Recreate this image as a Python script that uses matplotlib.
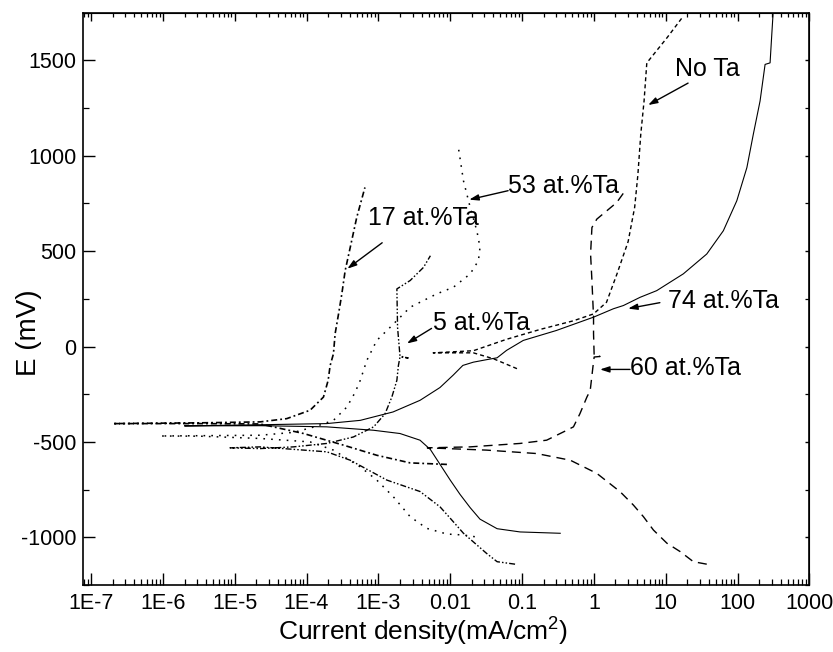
import matplotlib
matplotlib.use("Agg")
import matplotlib.pyplot as plt
from matplotlib.ticker import LogLocator, MultipleLocator, NullFormatter

plt.rcParams['font.family'] = ['Liberation Sans', 'DejaVu Sans']
plt.rcParams['mathtext.fontset'] = 'custom'
plt.rcParams['mathtext.rm'] = 'Liberation Sans'
plt.rcParams['mathtext.default'] = 'regular'
plt.rcParams['axes.unicode_minus'] = False

# Polarization curves: current density (mA/cm2) and potential E (mV),
# each list runs from the cathodic end, through Ecorr, to the anodic end
no_ta_i = [0.085, 0.040, 0.021, 5.8e-3, 0.021, 0.061, 0.18, 0.52, 0.99, 1.5,
           2.1, 3.0, 3.7, 4.1, 4.5, 5.0, 5.46, 10.4, 17.6]
no_ta_e = [-116, -64, -33, -33, -22, 38, 90, 135, 171, 232,
           381, 550, 730, 900, 1113, 1287, 1487, 1618, 1732]

ta5_i = [0.080, 0.045, 0.032, 0.0153, 0.010, 7.2e-3, 3.8e-3, 1.31e-3, 4.06e-4, 1.92e-4, 2.26e-5, 8.6e-6,
         2.26e-5, 6.6e-5, 1.92e-4, 4.5e-4, 8.6e-4, 1.24e-3, 1.54e-3, 1.81e-3, 1.9e-3, 2.0e-3, 2.6e-3,
         2.0e-3, 1.85e-3, 1.81e-3, 2.77e-3, 4.25e-3, 5.3e-3]
ta5_e = [-1141, -1128, -1084, -979, -900, -840, -760, -700, -596, -552, -526, -531,
         -535, -526, -508, -474, -421, -352, -265, -177, -100, -55, -60,
         -50, 100, 302, 346, 415, 476]

ta17_i = [9.0e-3, 2.77e-3, 9.5e-4, 3.27e-4, 9.1e-5, 2.26e-5, 3.3e-6, 2.0e-7,
          3.3e-6, 2.26e-5, 5.3e-5, 1.12e-4, 1.72e-4, 2.0e-4, 2.13e-4, 2.37e-4, 2.5e-4, 2.79e-4,
          3.1e-4, 3.45e-4, 4.06e-4, 5.0e-4, 6.5e-4]
ta17_e = [-618, -610, -570, -517, -456, -406, -404, -404,
          -400, -395, -378, -334, -265, -177, -100, -38, 67, 171,
          276, 398, 520, 677, 834]

ta53_i = [0.022, 0.0153, 9.0e-3, 4.7e-3, 2.77e-3, 1.62e-3, 9.5e-4, 5.6e-4, 2.37e-4, 1.12e-4, 2.26e-5, 3.3e-6, 9.2e-7,
          2.26e-5, 6.6e-5, 1.32e-4, 2.37e-4, 3.65e-4, 4.75e-4, 5.6e-4, 6.9e-4, 9.5e-4, 1.46e-3,
          2.77e-3, 6.5e-3, 0.0111, 0.019, 0.0247, 0.026, 0.0235, 0.019, 0.0153, 0.013]
ta53_e = [-997, -988, -983, -953, -892, -788, -700, -631, -543, -500, -482, -470, -469,
          -465, -450, -420, -387, -317, -240, -177, -73, 32, 101,
          206, 276, 311, 381, 450, 520, 607, 729, 869, 1043]

ta60_i = [37.3, 24.3, 15.9, 10.4, 6.75, 4.9, 3.55, 2.32, 1.10, 0.47, 0.16, 0.032, 4.8e-3,
          0.019, 0.094, 0.22, 0.42, 0.52, 0.64, 0.80, 0.89, 0.97, 1.01,
          1.22, 1.01, 0.99, 0.99, 0.94, 0.90, 0.94, 1.10, 2.08, 2.72]
ta60_e = [-1141, -1128, -1075, -1031, -962, -892, -831, -761, -665, -596, -561, -543, -531,
          -526, -508, -491, -439, -421, -352, -265, -230, -108, -55,
          -52, -48, 67, 154, 346, 485, 624, 668, 755, 816]

ta74_i = [0.34, 0.094, 0.045, 0.026, 0.019, 0.0137, 0.010, 7.0e-3, 5.3e-3, 3.8e-3, 2.0e-3, 8.6e-4, 1.9e-4, 2.3e-5, 2.0e-6,
          2.3e-5, 1.9e-4, 5.6e-4, 1.6e-3, 3.8e-3, 7.2e-3, 0.011, 0.015, 0.021, 0.032, 0.045, 0.061, 0.104, 0.30, 0.99,
          1.87, 2.58, 4.4, 7.5, 17.6, 37.3, 63.5, 97.7, 135, 166, 206, 242, 284, 300, 312]
ta74_e = [-979, -972, -955, -905, -845, -775, -700, -610, -540, -491, -456, -439, -421, -415, -416,
          -410, -404, -387, -343, -282, -215, -150, -99, -82, -69, -59, -20, 32, 84, 154,
          198, 215, 258, 293, 381, 485, 607, 764, 938, 1113, 1287, 1479, 1487, 1636, 1740]

xtick_vals = [1e-7, 1e-6, 1e-5, 1e-4, 1e-3, 1e-2, 1e-1, 1, 10, 100, 1000]
xtick_labels = ['1E-7', '1E-6', '1E-5', '1E-4', '1E-3', '0.01', '0.1', '1', '10', '100', '1000']

fig = plt.figure(figsize=(8.33, 6.52), dpi=100)
ax = fig.add_axes([0.100, 0.1028, 0.8716, 0.8777])

lw = 1.0
ax.plot(no_ta_i, no_ta_e, color='k', lw=lw, linestyle=(0, (2.9, 2.2)))
ax.plot(ta5_i, ta5_e, color='k', lw=lw, linestyle=(0, (4.3, 1.5, 1.1, 1.5, 1.1, 1.5)))
ax.plot(ta17_i, ta17_e, color='k', lw=1.2, linestyle=(0, (3.6, 1.8, 1.1, 1.8)))
ax.plot(ta53_i, ta53_e, color='k', lw=1.1, linestyle=(0, (1.1, 4.0)))
ax.plot(ta60_i, ta60_e, color='k', lw=lw, linestyle=(0, (6.5, 4.3)))
ax.plot(ta74_i, ta74_e, color='k', lw=0.8, linestyle='-')

ax.set_xscale('log')
ax.set_xlim(7.8e-8, 1000)
ax.set_ylim(-1250, 1750)

ax.set_xticks(xtick_vals)
ax.set_xticklabels(xtick_labels)
ax.xaxis.set_minor_locator(LogLocator(base=10, subs=range(2, 10), numticks=100))
ax.xaxis.set_minor_formatter(NullFormatter())
ax.yaxis.set_major_locator(MultipleLocator(500))
ax.yaxis.set_minor_locator(MultipleLocator(250))

ax.tick_params(which='major', direction='in', length=8.4, width=1.0, labelsize=15.5)
ax.tick_params(which='minor', direction='in', length=4.5, width=0.9)
ax.tick_params(axis='x', pad=6)
ax.tick_params(axis='y', pad=5)
for sp in ax.spines.values():
    sp.set_linewidth(1.2)

# ticks on top and right are shorter and have no labels
top = ax.secondary_xaxis('top')
top.set_xticks(xtick_vals)
top.xaxis.set_minor_locator(LogLocator(base=10, subs=range(2, 10), numticks=100))
top.xaxis.set_minor_formatter(NullFormatter())
top.tick_params(which='major', direction='in', length=5.5, width=1.0, labeltop=False)
top.tick_params(which='minor', direction='in', length=3, width=0.9)

right = ax.secondary_yaxis('right')
right.yaxis.set_major_locator(MultipleLocator(500))
right.yaxis.set_minor_locator(MultipleLocator(250))
right.tick_params(which='major', direction='in', length=3, width=1.0, labelright=False)
right.tick_params(which='minor', direction='in', length=3, width=0.9)

ax.set_xlabel('Current density(mA/cm$^2$)', fontsize=19)
ax.set_ylabel('E (mV)', fontsize=20)
ax.xaxis.set_label_coords(0.468, -0.054)
ax.xaxis.label.set_va('top')
ax.yaxis.set_label_coords(-0.057, 0.44)

# labels with arrows
arrow = dict(arrowstyle='-|>,head_length=0.55,head_width=0.18', color='k', lw=1.0,
             shrinkA=0, shrinkB=0)
notes = [
    ('No Ta', (13.5, 1454), (20.5, 1381), (5.7, 1266)),
    ('53 at.%Ta', (0.064, 843), (0.064, 817), (0.0184, 770)),
    ('17 at.%Ta', (7.2e-4, 675), (1.13e-3, 544), (3.7e-4, 408)),
    ('5 at.%Ta', (5.8e-3, 121), (5.5e-3, 95), (2.5e-3, 16)),
    ('74 at.%Ta', (10.8, 241), (8.3, 230), (3.0, 199)),
    ('60 at.%Ta', (3.19, -115), (3.19, -120), (1.22, -120)),
]
for txt, pos, tail, tip in notes:
    ax.text(pos[0], pos[1], txt, fontsize=18, ha='left', va='center')
    ax.annotate('', xy=tip, xytext=tail, arrowprops=arrow)

fig.savefig('out.png', dpi=100)
